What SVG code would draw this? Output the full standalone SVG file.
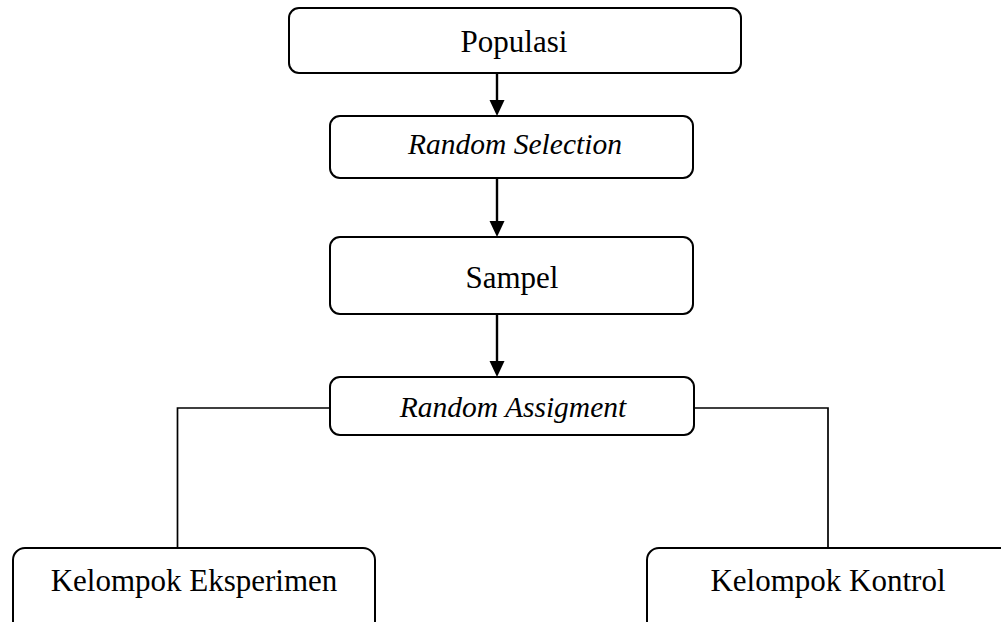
<svg xmlns="http://www.w3.org/2000/svg" width="1001" height="622" viewBox="0 0 1001 622">
<style>
.box{fill:#fff;stroke:#000;stroke-width:2}
.t{font-family:"Liberation Serif","Times New Roman",serif;font-size:31px;fill:#000;text-anchor:middle}
.i{font-style:italic;font-size:29.5px}
.c{fill:none;stroke:#000;stroke-width:2.4}
.l{fill:none;stroke:#000;stroke-width:1.7}
.h{fill:#000}
</style>
<g id="connectors">
<path class="c" d="M497,73 V101"/>
<path class="h" d="M489.5,100 L504.5,100 L497,116 Z"/>
<path class="c" d="M497,178 V222"/>
<path class="h" d="M489.5,221 L504.5,221 L497,237 Z"/>
<path class="c" d="M497,314 V362"/>
<path class="h" d="M489.5,361 L504.5,361 L497,377 Z"/>
<path class="l" d="M330,408 H177.5 V548"/>
<path class="l" d="M694,408 H828 V548"/>
</g>
<g id="populasi">
<rect class="box" x="289" y="8" width="452" height="65" rx="10"/>
<text class="t" x="514" y="52">Populasi</text>
</g>
<g id="random-selection">
<rect class="box" x="330" y="116" width="363" height="62" rx="10"/>
<text class="t i" x="515" y="154">Random Selection</text>
</g>
<g id="sampel">
<rect class="box" x="330" y="237" width="363" height="77" rx="10"/>
<text class="t" x="512" y="288">Sampel</text>
</g>
<g id="random-assigment">
<rect class="box" x="330" y="377" width="364" height="58" rx="10"/>
<text class="t i" x="513" y="417">Random Assigment</text>
</g>
<g id="kelompok-eksperimen">
<rect class="box" x="13" y="548" width="362" height="90" rx="12"/>
<text class="t" x="194" y="591">Kelompok Eksperimen</text>
</g>
<g id="kelompok-kontrol">
<rect class="box" x="647" y="548" width="380" height="90" rx="12"/>
<text class="t" x="828" y="591">Kelompok Kontrol</text>
</g>
</svg>
